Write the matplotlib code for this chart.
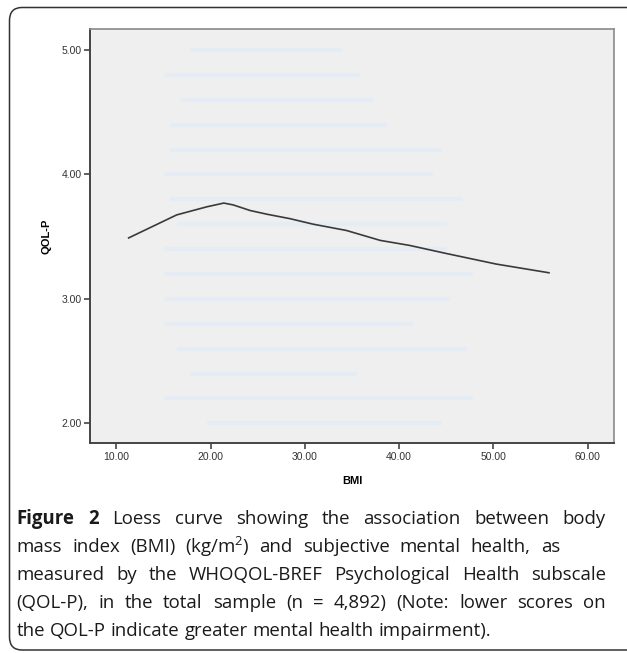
import numpy as np
import matplotlib
matplotlib.use("Agg")
import matplotlib.pyplot as plt
from matplotlib.patches import FancyBboxPatch

# loess curve
bmi = [11.3, 16.4, 19.6, 21.4, 22.4, 24.2, 26.0, 28.4, 30.9, 34.4, 38.0, 41.1, 45.0, 50.3, 55.9]
qolp = [3.49, 3.675, 3.74, 3.77, 3.755, 3.71, 3.68, 3.645, 3.60, 3.55, 3.47, 3.43, 3.365, 3.28, 3.21]

# faint bands of raw points (score level, bmi from, bmi to)
band_level = [5.0, 4.8, 4.6, 4.4, 4.2, 4.0, 3.8, 3.6, 3.4, 3.2, 3.0, 2.8, 2.6, 2.4, 2.2, 2.0]
band_lo = [17.8, 15.0, 16.8, 15.7, 15.7, 15.0, 15.7, 16.4, 15.0, 15.0, 15.0, 15.0, 16.4, 17.8, 15.0, 19.6]
band_hi = [34.0, 35.8, 37.2, 38.7, 44.6, 43.6, 46.8, 45.1, 45.1, 47.8, 45.4, 41.5, 47.2, 35.5, 47.8, 44.6]

xticks = [10, 20, 30, 40, 50, 60]
yticks = [2, 3, 4, 5]

caption_lines = [
    "Figure 2 Loess curve showing the association between body",
    "mass index (BMI) (kg/m$^{2}$) and subjective mental health, as",
    "measured by the WHOQOL-BREF Psychological Health subscale",
    "(QOL-P), in the total sample (n = 4,892) (Note: lower scores on",
    "the QOL-P indicate greater mental health impairment).",
]
caption_right = [606, 560, 606, 606, None]  # justified right edge in px
bold_words = 2  # "Figure 2"
cap_size = 13.4

plt.rcParams["mathtext.fontset"] = "custom"
plt.rcParams["mathtext.rm"] = "Open Sans"
plt.rcParams["mathtext.bf"] = "Open Sans:bold"

W, H = 627, 653
fig = plt.figure(figsize=(W / 100, H / 100), dpi=100)

frame = FancyBboxPatch((9.5 / W, 3 / H), 700 / W, (645.5 - 3) / H,
                       boxstyle="round,pad=0,rounding_size=0.02",
                       transform=fig.transFigure, fill=False,
                       edgecolor="#333333", linewidth=1.1)
fig.patches.append(frame)

ax = fig.add_axes([90 / W, 1 - 443.3 / H, (614 - 90) / W, (443.3 - 29.3) / H])
ax.set_facecolor("#efefef")

for lv, lo, hi in zip(band_level, band_lo, band_hi):
    ax.hlines(lv, lo, hi, color="#e6ecf4", linewidth=3.2, zorder=1)

ax.plot(bmi, qolp, color="#3a3a3a", linewidth=1.2, zorder=3)

ax.set_xlim(7.2, 62.8)
ax.set_ylim(1.84, 5.166)
ax.set_xticks(xticks)
ax.set_yticks(yticks)
ax.set_xticklabels(["%.2f" % v for v in xticks])
ax.set_yticklabels(["%.2f" % v for v in yticks])
ax.tick_params(direction="out", length=4, width=1.2, color="#444444",
               labelsize=7.5, labelcolor="#333333", pad=2)
for lab in ax.get_xticklabels() + ax.get_yticklabels():
    lab.set_fontfamily("Liberation Sans")

ax.spines["left"].set_color("#444444")
ax.spines["bottom"].set_color("#444444")
ax.spines["left"].set_linewidth(1.4)
ax.spines["bottom"].set_linewidth(1.4)
ax.spines["top"].set_color("#8a8a8a")
ax.spines["right"].set_color("#8a8a8a")
ax.spines["top"].set_linewidth(1.2)
ax.spines["right"].set_linewidth(1.2)

ax.set_xlabel("BMI", fontsize=8, fontweight="bold", family="Liberation Sans", labelpad=10)
ax.set_ylabel("QOL-P", fontsize=8, fontweight="bold", family="Liberation Sans", labelpad=7)

# caption, set word by word so lines can be justified
renderer = fig.canvas.get_renderer()
probe1 = fig.text(0, 0, "a b", fontsize=cap_size, family="Open Sans")
probe2 = fig.text(0, 0, "ab", fontsize=cap_size, family="Open Sans")
space = probe1.get_window_extent(renderer).width - probe2.get_window_extent(renderer).width
probe1.remove()
probe2.remove()

ys = [519, 547, 575, 603, 631]
x0 = 16.5
for li, (line, y, right) in enumerate(zip(caption_lines, ys, caption_right)):
    words = line.split(" ")
    texts = []
    for wi, w in enumerate(words):
        bold = li == 0 and wi < bold_words
        t = fig.text(0, 1 - y / H, w, fontsize=cap_size, family="Open Sans",
                     fontweight="bold" if bold else "normal",
                     va="center", ha="left", color="#1a1a1a")
        texts.append(t)
    widths = [t.get_window_extent(renderer).width for t in texts]
    gap = space
    if right is not None and len(words) > 1:
        gap = max(space, (right - x0 - sum(widths)) / (len(words) - 1))
    x = x0
    for t, wd in zip(texts, widths):
        t.set_x(x / W)
        x += wd + gap

fig.savefig("out.png", dpi=100)
